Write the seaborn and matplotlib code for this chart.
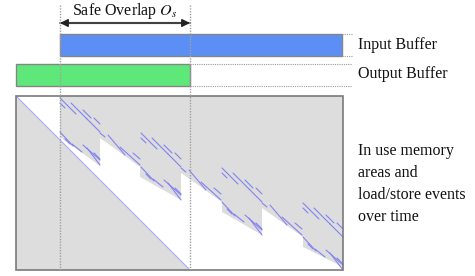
import matplotlib
matplotlib.use("Agg")
import matplotlib.pyplot as plt
from matplotlib.patches import Rectangle, Polygon
import pandas as pd
import seaborn as sns

# ---------------- data (diagram units: x = time, y = memory address) ----------------
box_x = [16, 343]            # main memory/time box extent
box_y = [96, 270]
safe_overlap_x = [60, 190]   # dashed markers / safe overlap
input_buffer = [60, 342, 34, 56]    # x0, x1, y0, y1
output_buffer = [16, 190, 64, 86]
output_buffer_free = [190, 352]

# upper boundary of the free (white) memory region
free_x = [16, 60, 60, 100, 100, 140, 140, 181, 181, 222, 222, 262, 262, 303, 303, 335, 343, 343, 190]
free_y = [96, 96, 137, 166, 138, 167, 177, 200, 173, 202, 212, 235, 208, 237, 247, 263, 268, 270, 270]

# diagonal (output written) line
diag_x = [16, 190]
diag_y = [96, 270]

# load/store events: (x0, y0, x1, y1)
events = [
    # cluster 1
    (60, 98, 76, 114), (60, 103, 65, 108), (71, 103, 87, 119), (83, 110, 91, 118),
    (94, 118, 100, 124), (87, 119, 100, 132),
    (60, 132, 73, 146), (65, 139, 70, 144), (72, 144, 82, 152), (83, 145, 100, 160),
    (87, 148, 100, 165), (94, 153, 100, 159),
    (100, 133, 105, 137), (108, 135, 125, 155), (120, 147, 140, 165), (133, 153, 140, 159),
    # cluster 2
    (141, 133, 157, 149), (141, 138, 146, 143), (152, 138, 168, 154), (164, 145, 172, 153),
    (175, 153, 181, 159), (168, 154, 181, 167),
    (141, 167, 154, 181), (146, 174, 151, 179), (153, 179, 163, 187), (164, 180, 181, 195),
    (168, 183, 181, 200), (175, 188, 181, 194),
    (181, 168, 186, 172), (189, 170, 206, 190), (201, 182, 221, 200), (214, 188, 221, 194),
    # cluster 3
    (222, 168, 238, 184), (222, 173, 227, 178), (233, 173, 249, 189), (245, 180, 253, 188),
    (256, 188, 262, 194), (249, 189, 262, 202),
    (222, 202, 235, 216), (227, 209, 232, 214), (234, 214, 244, 222), (245, 215, 262, 230),
    (249, 218, 262, 235), (256, 223, 262, 229),
    (262, 203, 267, 207), (270, 205, 287, 225), (282, 217, 302, 235), (295, 223, 302, 229),
    # cluster 4
    (303, 203, 319, 219), (303, 208, 308, 213), (314, 208, 330, 224), (326, 215, 334, 223),
    (337, 223, 343, 229), (330, 224, 343, 237),
    (303, 237, 316, 251), (308, 244, 313, 249), (315, 249, 325, 257), (326, 250, 343, 265),
    (330, 253, 343, 270), (337, 258, 343, 264),
]

title_text = "Safe Overlap $O_s$"
label_input = "Input Buffer"
label_output = "Output Buffer"
label_events = "In use memory\nareas and\nload/store events\nover time"

# ---------------- style ----------------
sns.set_theme(style="white")
plt.rcParams["font.family"] = ["Liberation Serif", "DejaVu Serif"]
plt.rcParams["mathtext.fontset"] = "stix"

GREY_FILL = "#dddddd"
EDGE = "#858585"
BLUE = "#5b8ff5"
GREEN = "#5ee87a"
EVENT = "#8383f0"

fig = plt.figure(figsize=(4.75, 2.76), dpi=100)
ax = fig.add_axes([0, 0, 1, 1])

# main box (grey = in-use memory)
ax.add_patch(Rectangle((box_x[0], box_y[0]), box_x[1] - box_x[0], box_y[1] - box_y[0],
                       facecolor=GREY_FILL, edgecolor="none", zorder=1))
# free memory region
ax.add_patch(Polygon(list(zip(free_x, free_y)), closed=True, facecolor="white",
                     edgecolor="none", zorder=2))
# diagonal
ax.plot(diag_x, diag_y, color="#aaaaf5", lw=0.8, zorder=3)

# load/store events via seaborn
rows = []
for i, (x0, y0, x1, y1) in enumerate(events):
    rows.append({"seg": i, "t": x0, "addr": y0})
    rows.append({"seg": i, "t": x1, "addr": y1})
df = pd.DataFrame(rows)
sns.lineplot(data=df, x="t", y="addr", units="seg", estimator=None, sort=False,
             color=EVENT, lw=0.8, ax=ax, zorder=4, legend=False)
ax.set_xlim(0, 475)
ax.set_ylim(276, 0)
ax.axis("off")

# box outline
ax.add_patch(Rectangle((box_x[0], box_y[0]), box_x[1] - box_x[0], box_y[1] - box_y[0],
                       facecolor="none", edgecolor="#7a7a7a", lw=1.2, zorder=5))

# buffers
ax.add_patch(Rectangle((input_buffer[0], input_buffer[2]), input_buffer[1] - input_buffer[0],
                       input_buffer[3] - input_buffer[2], facecolor=BLUE, edgecolor=EDGE,
                       lw=1.0, zorder=3))
ax.add_patch(Rectangle((output_buffer[0], output_buffer[2]), output_buffer[1] - output_buffer[0],
                       output_buffer[3] - output_buffer[2], facecolor=GREEN, edgecolor=EDGE,
                       lw=1.0, zorder=3))
# dotted continuation of buffers
for yy in (output_buffer[2], output_buffer[3]):
    ax.plot(output_buffer_free, [yy, yy], color="#9a9a9a", lw=0.8, ls=(0, (1, 1)), zorder=3)
for yy in (input_buffer[2], input_buffer[3]):
    ax.plot([input_buffer[1], output_buffer_free[1]], [yy, yy], color="#9a9a9a", lw=0.8,
            ls=(0, (1, 1)), zorder=3)

# dashed vertical markers
for xx in safe_overlap_x:
    ax.plot([xx, xx], [5, box_y[1]], color="#a0a0a0", lw=1.0, ls=(0, (1, 1)), zorder=6)

# arrow
ax.plot(safe_overlap_x, [23, 23], color="#8a8a8a", lw=1.6, zorder=6)
ax.annotate("", xy=(safe_overlap_x[0], 23), xytext=(safe_overlap_x[1], 23),
            arrowprops=dict(arrowstyle="<|-|>", color="#222222", lw=1.0,
                            mutation_scale=12, shrinkA=0, shrinkB=0), zorder=7)

# texts
ax.text(sum(safe_overlap_x) / 2, 11, title_text, ha="center", va="center", fontsize=11.5,
        color="#111111")
ax.text(358, 45, label_input, ha="left", va="center", fontsize=11.5, color="#111111")
ax.text(358, 74, label_output, ha="left", va="center", fontsize=11.5, color="#111111")
ax.text(358, 184, label_events, ha="left", va="center", fontsize=11.5, color="#111111",
        linespacing=1.5)

fig.savefig("out.png", dpi=100)
